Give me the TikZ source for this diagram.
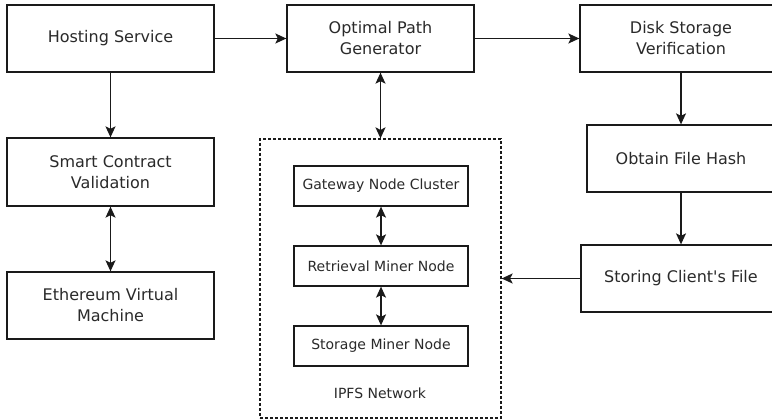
\documentclass[tikz,border=0pt]{standalone}
\usepackage{fontspec}
\setmainfont{DejaVu Sans}
\usetikzlibrary{arrows.meta}
\definecolor{ln}{HTML}{1A1A1A}
\definecolor{tx}{HTML}{2A2A2A}
\begin{document}
\begin{tikzpicture}[x=1pt,y=-1pt,
  box/.style={draw=ln,line width=1.3pt,rectangle,align=center,text=tx,inner sep=0pt,
    font=\fontsize{16}{21}\selectfont},
  smallbox/.style={draw=ln,line width=1.3pt,rectangle,align=center,text=tx,inner sep=0pt,
    minimum width=174pt,minimum height=40pt,font=\fontsize{14}{17}\selectfont},
  group/.style={draw=ln,line width=1.2pt,dash pattern=on 3pt off 2pt,rectangle,inner sep=0pt},
  arr/.style={draw=ln,line width=1.3pt,-{Stealth[length=11pt,width=10pt,inset=2.5pt]}},
  barr/.style={draw=ln,line width=1.3pt,{Stealth[length=11pt,width=10pt,inset=2.5pt]}-{Stealth[length=11pt,width=10pt,inset=2.5pt]}}
]
\useasboundingbox (0,0) rectangle (772,420);
\fill[white] (0,0) rectangle (772,420);

\node[box,minimum width=207pt,minimum height=67pt] (host) at (110.5,38.5) {Hosting Service};
\node[box,minimum width=187pt,minimum height=67pt] (opt) at (380.5,38.5) {Optimal Path\\Generator};
\node[box,minimum width=202pt,minimum height=67pt] (disk) at (681,38.5) {Disk Storage\\Verification};
\node[box,minimum width=207pt,minimum height=68pt] (smart) at (110.5,172) {Smart Contract\\Validation};
\node[box,minimum width=207pt,minimum height=67pt] (evm) at (110.5,305.5) {Ethereum Virtual\\Machine};
\node[box,minimum width=188pt,minimum height=67pt] (hash) at (681,158.5) {Obtain File Hash};
\node[box,minimum width=200pt,minimum height=67pt] (store) at (681,278.5) {Storing Client\textquotesingle s File};

\node[group,minimum width=241pt,minimum height=279pt] (ipfs) at (380.5,278.5) {};
\node[smallbox] (gw) at (381,186) {Gateway Node Cluster};
\node[smallbox] (rm) at (381,266) {Retrieval Miner Node};
\node[smallbox] (sm) at (381,346) {Storage Miner Node};
\node[text=tx,font=\fontsize{14}{17}\selectfont,inner sep=0pt] (lbl) at (380,393) {IPFS Network};

\draw[arr] (host.east) -- (opt.west);
\draw[arr] (opt.east) -- (disk.west);
\draw[arr] (host.south) -- (smart.north);
\draw[barr] (smart.south) -- (evm.north);
\draw[barr] (opt.south) -- (ipfs.north);
\draw[arr] (disk.south) -- (hash.north);
\draw[arr] (hash.south) -- (store.north);
\draw[arr] (store.west) -- (ipfs.east);
\draw[barr] (gw.south) -- (rm.north);
\draw[barr] (rm.south) -- (sm.north);
\end{tikzpicture}
\end{document}
